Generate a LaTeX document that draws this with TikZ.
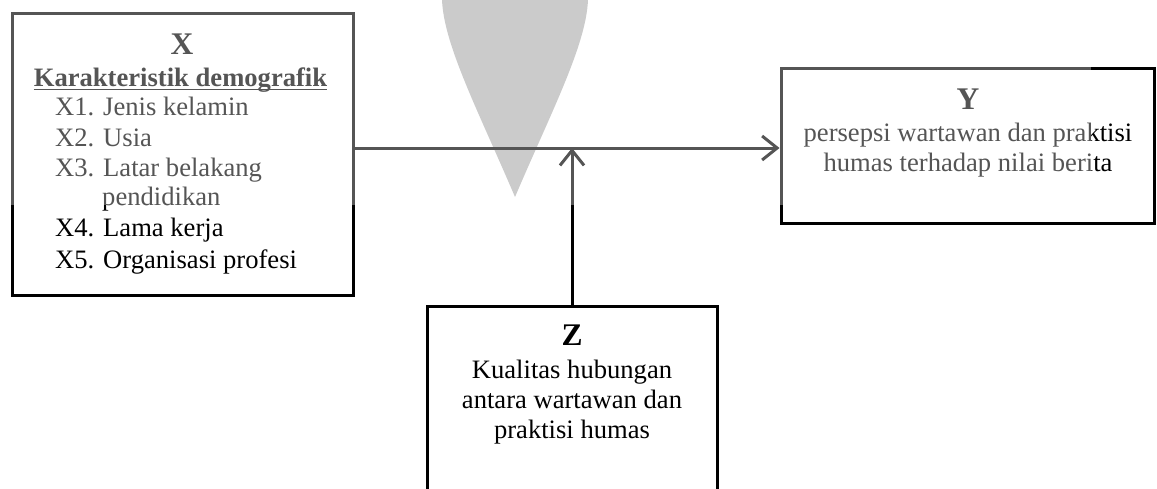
\documentclass[tikz,border=0pt]{standalone}
\usepackage{fontspec}
\setmainfont{Liberation Serif}
\usetikzlibrary{arrows.meta}
\begin{document}
\begin{tikzpicture}[x=1pt,y=-1pt,
  box/.style={draw=black, line width=3pt, rectangle, inner sep=0pt},
  txt/.style={inner sep=0pt, font=\fontsize{26.6}{30}\selectfont},
  sub/.style={txt, font=\fontsize{26.6}{30}\selectfont\bfseries},
  head/.style={txt, font=\fontsize{31.5}{34}\selectfont\bfseries},
  link/.style={draw=black, line width=3pt, -{Straight Barb[length=15pt,width=24pt]}}]
\useasboundingbox (0,0) rectangle (1157,488);
\clip (0,0) rectangle (1157,488);

% pale drop shape in the background
\fill[black!30] (515,197) .. controls (478,110) and (441,40) .. (442,-5)
  -- (588,-5) .. controls (589,40) and (552,110) .. (515,197) -- cycle;

% boxes
\node[box, minimum width=341pt, minimum height=282pt] (X) at (182.5,154) {};
\node[box, minimum width=373pt, minimum height=155pt] (Y) at (967.5,145.5) {};
\node[box, minimum width=290pt, minimum height=240pt, anchor=north] (Z) at (572,305) {};

% box X text
\node[head, anchor=base] (xt) at (182,54) {X};
\node[sub, anchor=base] (xk) at (180.5,86) {Karakteristik demografik};
\draw[line width=1.6pt] ([yshift=-3.5pt]xk.base west) -- ([yshift=-3.5pt]xk.base east);
\node[txt, anchor=base west] (x1) at (55,115.7) {X1. Jenis kelamin};
\node[txt, anchor=base west] (x2) at (55,146.5) {X2. Usia};
\node[txt, anchor=base west] (x3) at (55,176.5) {X3. Latar belakang};
\node[txt, anchor=base west] (x3b) at (102,205.5) {pendidikan};
\node[txt, anchor=base west] (x4) at (55,236.5) {X4. Lama kerja};
\node[txt, anchor=base west] (x5) at (55,268) {X5. Organisasi profesi};

% box Y text
\node[head, anchor=base] (yt) at (968,109) {Y};
\node[txt, anchor=base] (y1) at (968,141.5) {persepsi wartawan dan praktisi};
\node[txt, anchor=base] (y2) at (968,171.5) {humas terhadap nilai berita};

% box Z text
\node[head, anchor=base] (zt) at (572,345) {Z};
\node[txt, anchor=base] (z1) at (572,378) {Kualitas hubungan};
\node[txt, anchor=base] (z2) at (572,408) {antara wartawan dan};
\node[txt, anchor=base] (z3) at (572,438) {praktisi humas};

% connectors
\coordinate (h) at (0,148);
\draw[link] (X.east |- h) -- (Y.west |- h);
\draw[link] (Z.north) -- (Z.north |- h);

% light veil over the upper band
\fill[white, fill opacity=0.333] (0,0) rectangle (1091,205);
\end{tikzpicture}
\end{document}
